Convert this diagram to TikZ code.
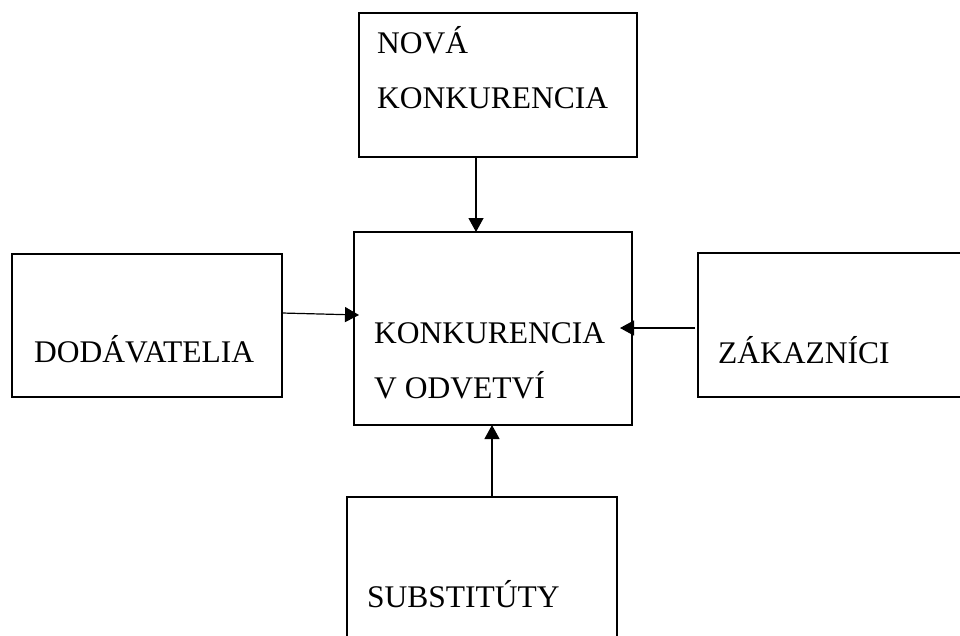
\documentclass[tikz,border=0pt]{standalone}
\usepackage{fontspec}
\setmainfont{Liberation Serif}
\usetikzlibrary{arrows.meta}
\begin{document}
\begin{tikzpicture}[x=1pt,y=-1pt,
  box/.style={draw,line width=1.6pt,rectangle,inner sep=0pt,outer sep=0pt},
  lbl/.style={anchor=base west,inner sep=0pt,font=\fontsize{31.5}{31.5}\selectfont},
  arr/.style={line width=1.2pt,-{Triangle[length=14pt,width=15pt]}}]
\useasboundingbox (0,0) rectangle (960,635);
\clip (0,0) rectangle (960,635);
\fill[white] (0,0) rectangle (960,635);
% boxes
\node[box,minimum width=278pt,minimum height=144pt] (top) at (498,85) {};
\node[box,minimum width=278pt,minimum height=193pt] (mid) at (493,328.5) {};
\node[box,minimum width=270pt,minimum height=143pt] (left) at (147,325.5) {};
\node[box,minimum width=290pt,minimum height=144pt] (right) at (843,325) {};
\node[box,minimum width=270pt,minimum height=160pt] (bot) at (482,577) {};
% labels
\node[lbl] (t1) at (377,53) {NOVÁ};
\node[lbl] (t2) at (377,108) {KONKURENCIA};
\node[lbl] (m1) at (374,343) {KONKURENCIA};
\node[lbl] (m2) at (374,398) {V ODVETVÍ};
\node[lbl] (l1) at (34,362) {DODÁVATELIA};
\node[lbl] (r1) at (718,363) {ZÁKAZNÍCI};
\node[lbl] (b1) at (367,607) {SUBSTITÚTY};
% connectors
\coordinate (ax) at (476,0);
\coordinate (bx) at (492,0);
\coordinate (ly1) at (0,313);
\coordinate (ly2) at (0,315);
\coordinate (ry) at (0,328);
\draw[arr] (top.south -| ax) -- (mid.north -| ax);
\draw[arr] (left.east |- ly1) -- ([xshift=5pt]mid.west |- ly2);
\draw[arr] ([xshift=-3pt]right.west |- ry) -- ([xshift=-12pt]mid.east |- ry);
\draw[arr] (bot.north -| bx) -- (mid.south -| bx);
\end{tikzpicture}
\end{document}
